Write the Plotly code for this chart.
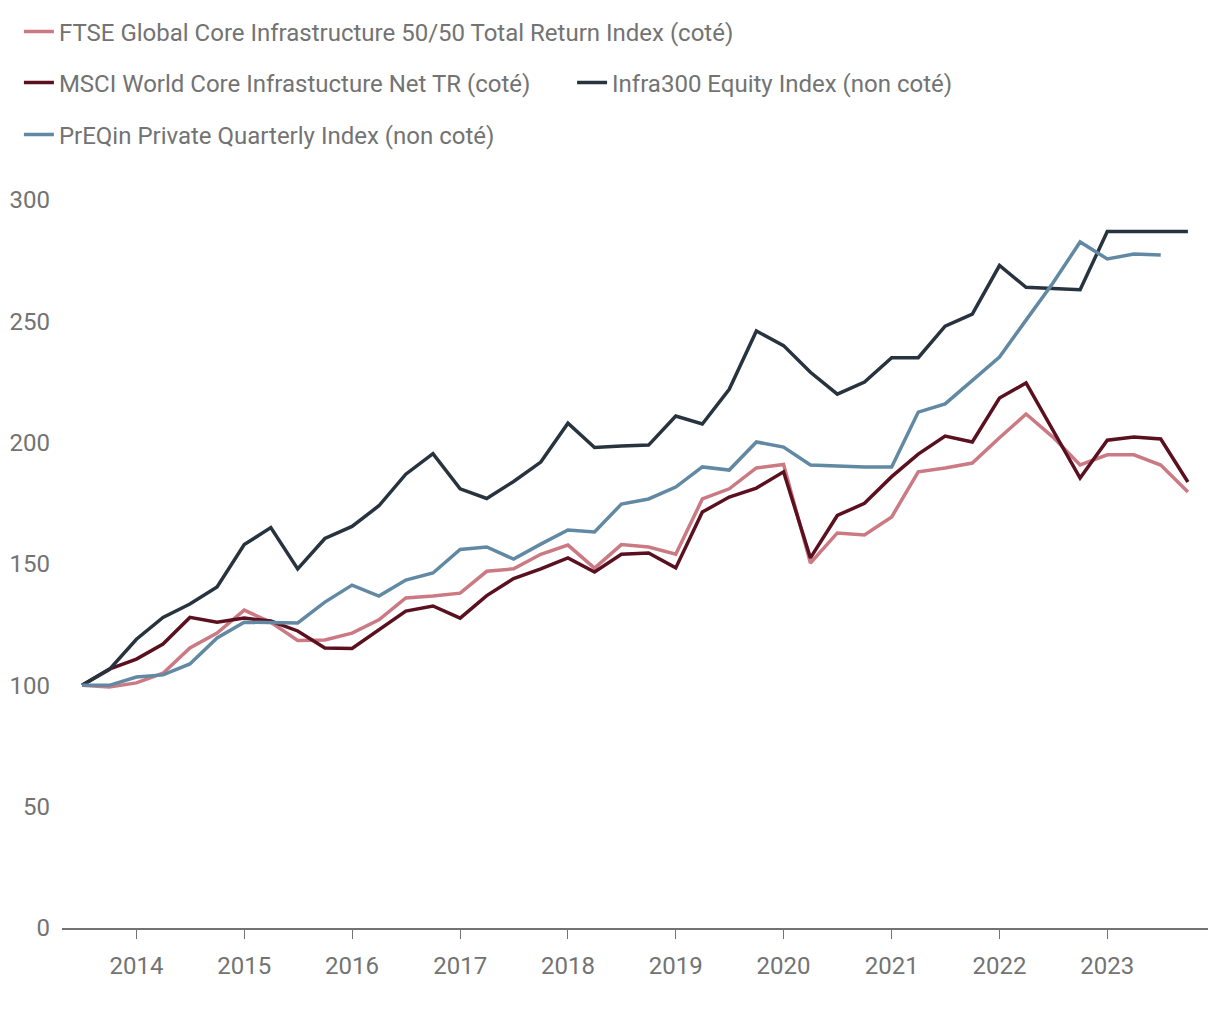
import plotly.graph_objects as go

dates = [
    "2013-07-01", "2013-10-01",
    "2014-01-01", "2014-04-01", "2014-07-01", "2014-10-01",
    "2015-01-01", "2015-04-01", "2015-07-01", "2015-10-01",
    "2016-01-01", "2016-04-01", "2016-07-01", "2016-10-01",
    "2017-01-01", "2017-04-01", "2017-07-01", "2017-10-01",
    "2018-01-01", "2018-04-01", "2018-07-01", "2018-10-01",
    "2019-01-01", "2019-04-01", "2019-07-01", "2019-10-01",
    "2020-01-01", "2020-04-01", "2020-07-01", "2020-10-01",
    "2021-01-01", "2021-04-01", "2021-07-01", "2021-10-01",
    "2022-01-01", "2022-04-01", "2022-07-01", "2022-10-01",
    "2023-01-01", "2023-04-01", "2023-07-01", "2023-10-01",
]

ftse = [100, 99.3, 101, 105, 115.4, 121.5, 131, 126, 118.5, 118.7, 121.5, 127,
        136, 136.8, 138, 147, 148, 154, 157.8, 148.3, 158, 157, 154, 176.8,
        181, 189.6, 191, 150.4, 162.8, 162, 169.4, 188, 189.6, 191.6, 202, 211.8,
        202.3, 190.8, 195, 195, 190.8, 179.7]

msci = [100, 106.7, 110.8, 117, 128, 126, 127.7, 126.5, 122.4, 115.4, 115.2, 122.8,
        130.6, 132.7, 127.7, 137, 144, 148, 152.5, 146.7, 154, 154.5, 148.4, 171.4,
        177.6, 181.3, 188, 152.5, 170, 175, 186, 195.3, 202.7, 200.3, 218.4, 224.6,
        205, 185.4, 201, 202.3, 201.5, 183.8]

infra = [100, 106.5, 119, 128, 133.5, 140.5, 158, 165, 148, 160.5, 165.5, 174,
         187, 195.5, 181, 177, 184, 192, 208, 198, 198.6, 199, 211, 207.7,
         222, 246, 240, 229, 220, 225, 235, 235, 248, 253, 273, 264,
         263.5, 263, 287, 287, 287, 287]

preqin = [100, 100, 103.4, 104.3, 108.8, 119.5, 126, 125.7, 125.7, 134.3, 141.3, 136.8,
          143.4, 146.3, 156, 157, 152, 158.2, 164, 163.2, 174.7, 176.8, 181.7, 190,
          188.7, 200.3, 198.2, 190.8, 190.4, 190, 190, 212.6, 216, 225.8, 235.3, 250.5,
          265.8, 282.7, 275.7, 277.7, 277.3, None]

names = [
    "FTSE Global Core Infrastructure 50/50 Total Return Index (coté)",
    "MSCI World Core Infrastucture Net TR (coté)",
    "Infra300 Equity Index (non coté)",
    "PrEQin Private Quarterly Index (non coté)",
]
y_ticks = [0, 50, 100, 150, 200, 250, 300]

colors = ["#CB7A83", "#5B1020", "#27343F", "#6189A3"]
series = [ftse, msci, infra, preqin]
legends = ["legend", "legend2", "legend4", "legend3"]

FONT = "Roboto"
GREY = "#737373"
FS = 24

fig = go.Figure()
for name, vals, col, lg in zip(names, series, colors, legends):
    fig.add_trace(go.Scatter(
        x=dates, y=vals, mode="lines", name=name,
        line=dict(color=col, width=3.5), legend=lg, showlegend=True,
    ))

leg_common = dict(orientation="h", xanchor="left", yanchor="middle",
                  font=dict(family=FONT, size=FS, color=GREY),
                  bgcolor="rgba(0,0,0,0)", visible=True)

fig.update_layout(
    width=1220, height=1020,
    showlegend=True,
    margin=dict(l=62, r=12, t=200, b=92, autoexpand=False),
    paper_bgcolor="white", plot_bgcolor="white",
    font=dict(family=FONT, size=FS, color=GREY),
    legend=dict(y=1.2308, x=-0.0376, **leg_common),
    legend2=dict(y=1.1607, x=-0.0376, **leg_common),
    legend4=dict(y=1.1607, x=0.4451, **leg_common),
    legend3=dict(y=1.0893, x=-0.0376, **leg_common),
    xaxis=dict(
        type="date",
        range=["2013-04-24", "2023-12-08"],
        tick0="2014-01-01", dtick="M12", tickformat="%Y",
        showgrid=False, zeroline=False,
        showline=True, linecolor=GREY, linewidth=2,
        ticks="outside", ticklen=9, tickwidth=1, tickcolor=GREY,
        ticklabelstandoff=6,
        tickfont=dict(family=FONT, size=FS, color=GREY),
    ),
    yaxis=dict(
        range=[0, 300], tickvals=y_ticks,
        showgrid=False, zeroline=False, showline=False,
        ticks="", ticklabelstandoff=11,
        tickfont=dict(family=FONT, size=FS, color=GREY),
    ),
)

fig.write_html("out.html", config={"displayModeBar": False},
               post_script="document.body.style.margin='0';")
